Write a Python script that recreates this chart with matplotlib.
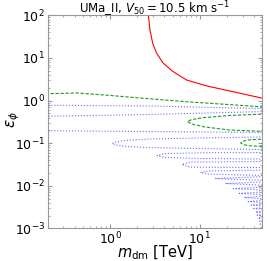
import matplotlib
matplotlib.use("Agg")
import matplotlib.pyplot as plt

# Red solid contour
red_m = [2.61, 2.665, 2.78, 2.98, 3.30, 3.91, 5.05, 7.11, 11.9, 23.4, 50.5, 55.0]
red_eps = [150.0, 100.0, 45.6, 22.2, 12.9, 7.53, 4.78, 3.05, 2.21, 1.62, 1.13, 1.10]

# Green dashed contours
green_top_m = [0.19, 0.202, 0.430, 1.0, 2.15, 7.74, 27.8, 55.0]
green_top_eps = [1.44, 1.45, 1.51, 1.32, 1.15, 0.928, 0.776, 0.70]

green_lobe1_m = [55.0, 21.5, 11.4, 8.15, 7.26, 8.15, 11.4, 21.5, 55.0]
green_lobe1_eps = [0.485, 0.447, 0.401, 0.360, 0.323, 0.282, 0.240, 0.204, 0.188]

green_lobe2_m = [55.0, 35.9, 30.8, 28.5, 30.8, 35.9, 55.0]
green_lobe2_eps = [0.1253, 0.120, 0.1125, 0.102, 0.0926, 0.0868, 0.0836]

# Blue dotted contours: long lines crossing the whole panel
blue_line_m = [0.19, 2.78, 55.0]
blue_line1_eps = [0.776, 0.747, 0.646]
blue_line2_eps = [0.428, 0.472, 0.555]
blue_line3_eps = [0.196, 0.188, 0.178]

# Blue dotted resonance lobes (upper edge -> tip -> lower edge)
blue_lobes = [
    ([55.0, 10.0, 2.78, 1.468, 1.166, 1.053, 1.166, 1.468, 2.78, 10.0, 55.0],
     [0.1397, 0.1323, 0.1253, 0.1156, 0.1066, 0.0983, 0.0906, 0.0836, 0.0791, 0.0749, 0.0710]),
    ([55.0, 10.0, 4.08, 3.33, 4.08, 10.0, 55.0],
     [0.0604, 0.0594, 0.0572, 0.0513, 0.0461, 0.0437, 0.0425]),
    ([55.0, 7.74, 6.31, 7.74, 55.0],
     [0.0371, 0.0361, 0.0316, 0.0275, 0.0268]),
    ([55.0, 12.4, 10.13, 12.4, 55.0],
     [0.02344, 0.0222, 0.0205, 0.01888, 0.0174]),
    ([55.0, 14.68, 55.0], [0.01649, 0.0148, 0.01328]),
    ([55.0, 19.2, 55.0], [0.01237, 0.0113, 0.01024]),
    ([55.0, 23.6, 55.0], [0.00934, 0.00861, 0.00786]),
    ([55.0, 27.5, 55.0], [0.00720, 0.00664, 0.00612]),
    ([55.0, 31.2, 55.0], [0.00568, 0.00530, 0.00488]),
    ([55.0, 34.6, 55.0], [0.00457, 0.00427, 0.00397]),
    ([55.0, 37.3, 55.0], [0.00374, 0.00353, 0.00331]),
    ([55.0, 39.8, 55.0], [0.00310, 0.00292, 0.00275]),
    ([55.0, 41.9, 55.0], [0.00255, 0.00242, 0.00229]),
    ([55.0, 43.5, 55.0], [0.00216, 0.00205, 0.00196]),
    ([55.0, 44.7, 55.0], [0.00183, 0.00175, 0.00166]),
    ([55.0, 45.8, 55.0], [0.00155, 0.00149, 0.00142]),
    ([55.0, 47.0, 55.0], [0.00132, 0.00126, 0.00121]),
    ([55.0, 47.6, 55.0], [0.00112, 0.00107, 0.00103]),
    ([55.0, 48.2, 55.0], [0.00095, 0.00091, 0.00087]),
]

fig = plt.figure(figsize=(2.67, 2.61), dpi=100)
ax = fig.add_axes([0.178, 0.125, 0.805, 0.816])

blue_style = {"color": "#3a3aff", "linestyle": ":", "linewidth": 0.8, "alpha": 0.75}
green_style = {"color": "#1f9a1f", "linestyle": (0, (3, 1.5)), "linewidth": 0.8}

for eps in (blue_line1_eps, blue_line2_eps, blue_line3_eps):
    ax.plot(blue_line_m, eps, **blue_style)
for lobe_m, lobe_eps in blue_lobes:
    ax.plot(lobe_m, lobe_eps, **blue_style)

ax.plot(green_top_m, green_top_eps, **green_style)
ax.plot(green_lobe1_m, green_lobe1_eps, **green_style)
ax.plot(green_lobe2_m, green_lobe2_eps, **green_style)

ax.plot(red_m, red_eps, color="red", linewidth=0.8)

ax.set_xscale("log")
ax.set_yscale("log")
ax.set_xlim(0.2, 50)
ax.set_ylim(1e-3, 1e2)

for spine in ax.spines.values():
    spine.set_color("#999999")
ax.tick_params(which="both", direction="in", top=True, right=True,
               colors="#999999", labelcolor="black", labelsize=9, pad=2)
ax.tick_params(which="major", length=3)
ax.tick_params(which="minor", length=1.5)

ax.text(0.5, 1.012, r"UMa_II, $V_{50} = 10.5$ km s$^{-1}$", fontsize=8.5,
        ha="center", va="baseline", transform=ax.transAxes)
ax.set_xlabel(r"$m_{\rm dm}$ [TeV]", fontsize=10.5)
ax.set_ylabel(r"$\epsilon_\phi$", fontsize=11)
ax.xaxis.set_label_coords(0.5, -0.072)
ax.yaxis.set_label_coords(-0.12, 0.51)

fig.savefig("out.png", dpi=100)
